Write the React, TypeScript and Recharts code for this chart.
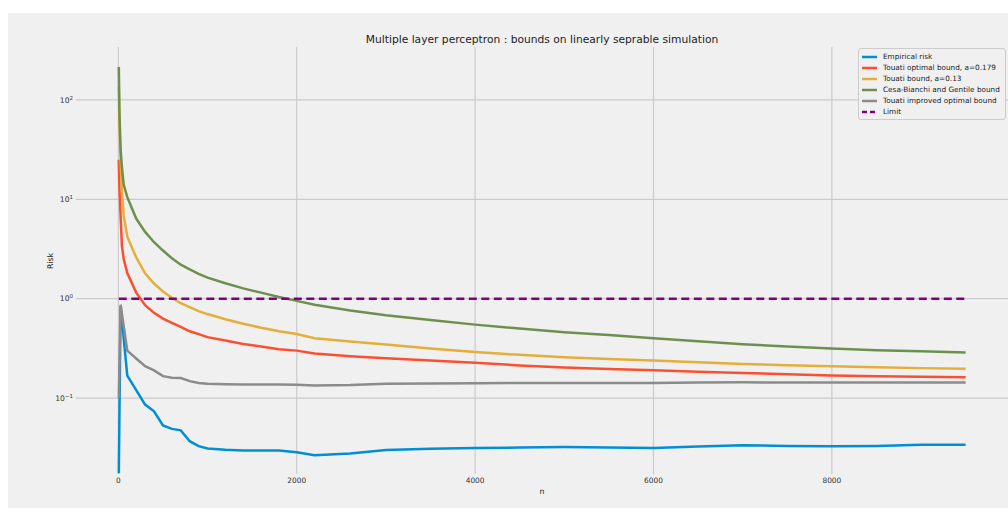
import { LineChart, Line, XAxis, YAxis, ReferenceLine, Legend } from "recharts";

// sample sizes n
const nValues = [
  5, 12, 25, 40, 60, 100, 200, 300, 400, 500, 600, 700, 800, 900, 1000, 1200,
  1400, 1600, 1800, 2000, 2200, 2600, 3000, 3500, 4000, 4500, 5000, 5500, 6000,
  6500, 7000, 7500, 8000, 8500, 9000, 9500,
];

const empiricalRisk = [
  0.0175, null, 0.84, null, null, 0.168, 0.12, 0.086, 0.0736, 0.053, 0.0489,
  0.0473, 0.0368, 0.0328, 0.031, 0.0302, 0.0297, 0.0296, 0.0296, 0.0285, 0.0265,
  0.0277, 0.03, 0.0308, 0.0314, 0.0317, 0.0321, 0.0318, 0.0314, 0.0325, 0.0335,
  0.033, 0.0328, 0.033, 0.0338, 0.0338,
];

const touatiOptimal = [
  25, 13, 6.8, 3.4, 2.5, 1.81, 1.15, 0.86, 0.72, 0.63, 0.57, 0.52, 0.47, 0.44,
  0.41, 0.38, 0.35, 0.33, 0.31, 0.3, 0.28, 0.264, 0.252, 0.238, 0.226, 0.213,
  0.203, 0.196, 0.19, 0.184, 0.179, 0.174, 0.169, 0.166, 0.164, 0.162,
];

const touatiBound = [
  135, 55, 25, 12, 6.8, 4.2, 2.6, 1.8, 1.42, 1.18, 1.02, 0.9, 0.82, 0.75, 0.7,
  0.62, 0.56, 0.51, 0.47, 0.44, 0.4, 0.37, 0.345, 0.315, 0.29, 0.272, 0.258,
  0.247, 0.238, 0.229, 0.22, 0.214, 0.209, 0.204, 0.2, 0.197,
];

const cesaBianchi = [
  215, 75, 32, 21, 14, 10.5, 6.4, 4.7, 3.7, 3.05, 2.55, 2.2, 1.97, 1.78, 1.63,
  1.43, 1.27, 1.15, 1.04, 0.95, 0.87, 0.76, 0.68, 0.61, 0.548, 0.5, 0.46, 0.43,
  0.4, 0.372, 0.348, 0.33, 0.315, 0.303, 0.295, 0.288,
];

const touatiImproved = [
  0.1, null, 0.87, null, null, 0.3, 0.25, 0.209, 0.19, 0.166, 0.16, 0.159,
  0.148, 0.142, 0.139, 0.138, 0.137, 0.137, 0.137, 0.136, 0.134, 0.135, 0.139,
  0.14, 0.141, 0.142, 0.142, 0.142, 0.142, 0.143, 0.144, 0.143, 0.143, 0.143,
  0.143, 0.143,
];

const limitValue = 1;

const xTicks = [0, 2000, 4000, 6000, 8000];
const yTicks = [0.1, 1, 10, 100];

const data = nValues.map((n, i) => ({
  n,
  empirical: empiricalRisk[i],
  optimal: touatiOptimal[i],
  bound: touatiBound[i],
  cesa: cesaBianchi[i],
  improved: touatiImproved[i],
  limit: limitValue,
}));

const series = [
  { key: "empirical", name: "Empirical risk", color: "#008fd5" },
  { key: "optimal", name: "Touati optimal bound, a=0.179", color: "#fc4f30" },
  { key: "bound", name: "Touati bound, a=0.13", color: "#e5ae38" },
  { key: "cesa", name: "Cesa-Bianchi and Gentile bound", color: "#6d904f" },
  { key: "improved", name: "Touati improved optimal bound", color: "#8b8b8b" },
  { key: "limit", name: "Limit", color: "#800080", dashed: true },
];

const font = "'DejaVu Sans', sans-serif";
const gridColor = "#cbcbcb";

const PowerTick = ({ x, y, payload }: any) => {
  const exp = Math.round(Math.log10(payload.value));
  const label = exp < 0 ? "\u2212" + Math.abs(exp) : String(exp);
  return (
    <text x={x} y={y} dy={2.6} textAnchor="end" fontSize={7.6} fill="#333" fontFamily={font}>
      <tspan>10</tspan>
      <tspan dy={-3} fontSize={5.5}>
        {label}
      </tspan>
    </text>
  );
};

const renderLegend = () => (
  <div
    style={{
      background: "#f0f0f0",
      border: "1px solid #cccccc",
      borderRadius: 3,
      padding: "2px 0",
      fontFamily: font,
      fontSize: 7.3,
      color: "#222",
    }}
  >
    {series.map((s) => (
      <div key={s.key} style={{ display: "flex", alignItems: "center", height: 11 }}>
        <svg width={22} height={6} style={{ flex: "none", marginRight: 2 }}>
          <line
            x1={3}
            x2={18}
            y1={3}
            y2={3}
            stroke={s.color}
            strokeWidth={2.5}
            strokeDasharray={s.dashed ? "5 3" : undefined}
          />
        </svg>
        <span style={{ whiteSpace: "nowrap" }}>{s.name}</span>
      </div>
    ))}
  </div>
);

export default function App() {
  return (
    <div
      style={{
        position: "absolute",
        left: 8,
        top: 13,
        width: 1000,
        height: 495,
        background: "#f0f0f0",
        fontFamily: font,
        overflow: "hidden",
      }}
    >
      <div
        style={{
          position: "absolute",
          left: 68,
          width: 932,
          top: 20,
          textAlign: "center",
          fontSize: 10.7,
          lineHeight: "13px",
          color: "#222",
        }}
      >
        Multiple layer perceptron : bounds on linearly seprable simulation
      </div>
      <div
        style={{
          position: "absolute",
          left: 42,
          top: 248,
          transform: "translate(-50%, -50%) rotate(-90deg)",
          fontSize: 7.8,
          color: "#222",
        }}
      >
        Risk
      </div>
      <div
        style={{
          position: "absolute",
          left: 534,
          top: 478,
          transform: "translate(-50%, -50%)",
          fontSize: 7.8,
          color: "#222",
        }}
      >
        n
      </div>
      <LineChart
        width={1000}
        height={495}
        data={data}
        margin={{ top: 34, right: 0, bottom: 10, left: 8 }}
      >
        <XAxis
          type="number"
          dataKey="n"
          domain={[-475, 9975]}
          ticks={xTicks}
          allowDataOverflow
          axisLine={false}
          tickLine={false}
          tickSize={0}
          tickMargin={4}
          height={24}
          tick={{ fontSize: 7.4, fill: "#333", fontFamily: font }}
        />
        <YAxis
          scale="log"
          domain={[0.0172, 341]}
          ticks={yTicks}
          allowDataOverflow
          axisLine={false}
          tickLine={false}
          tickSize={0}
          tickMargin={3}
          width={60}
          tick={<PowerTick />}
        />
        {xTicks.map((t) => (
          <ReferenceLine key={"vx" + t} x={t} stroke={gridColor} strokeWidth={1.2} />
        ))}
        {yTicks.map((t) => (
          <ReferenceLine key={"hy" + t} y={t} stroke={gridColor} strokeWidth={1.2} />
        ))}
        <Legend
          layout="vertical"
          align="center"
          verticalAlign="middle"
          content={renderLegend}
          wrapperStyle={{ left: 850, top: 35, width: 148 }}
        />
        {series.map((s) => (
          <Line
            key={s.key}
            type="linear"
            dataKey={s.key}
            name={s.name}
            stroke={s.color}
            strokeWidth={2.5}
            strokeDasharray={s.dashed ? "8 4.5" : undefined}
            dot={false}
            connectNulls
            isAnimationActive={false}
          />
        ))}
      </LineChart>
    </div>
  );
}
